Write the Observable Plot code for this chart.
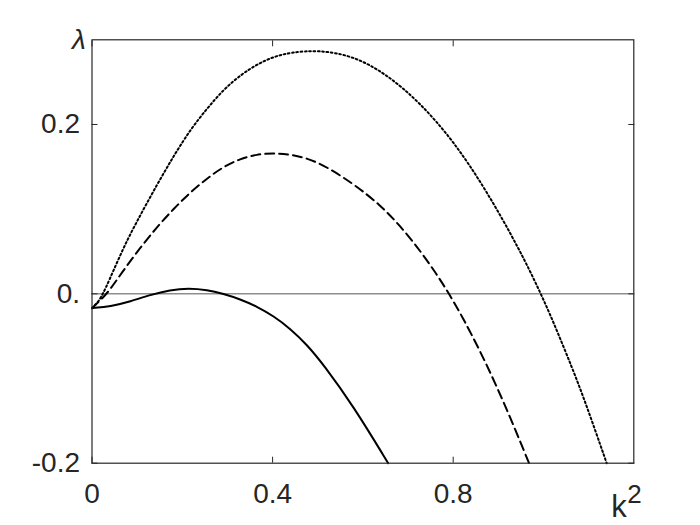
<!DOCTYPE html>
<html>
<head>
<meta charset="utf-8">
<script src="https://cdn.jsdelivr.net/npm/d3@7"></script>
<script src="https://cdn.jsdelivr.net/npm/@observablehq/plot@0.6"></script>
<style>
  body { margin: 0; background: #fff; }
</style>
</head>
<body>
<div id="chart"></div>
<script>
// Solid curve
const solidK2 = [0, 0.041, 0.085, 0.129, 0.173, 0.214, 0.255, 0.291, 0.328, 0.365, 0.402, 0.439, 0.476, 0.512, 0.579, 0.656];
const solidL  = [-0.0169, -0.0149, -0.009, -0.0012, 0.0047, 0.0067, 0.0047, 0, -0.0063, -0.0149, -0.0262, -0.0410, -0.060, -0.0830, -0.1326, -0.2];
// Dashed curve
const dashK2 = [0, 0.015, 0.0335, 0.070, 0.107, 0.144, 0.181, 0.218, 0.255, 0.291, 0.328, 0.365, 0.402, 0.439, 0.498, 0.579, 0.638, 0.682, 0.726, 0.763, 0.791, 0.822, 0.859, 0.895, 0.932, 0.968];
const dashL  = [-0.0169, -0.009, 0, 0.028, 0.0545, 0.079, 0.1005, 0.120, 0.1365, 0.150, 0.1595, 0.1647, 0.1663, 0.1647, 0.1576, 0.130, 0.1052, 0.0806, 0.0516, 0.0235, 0, -0.0288, -0.0669, -0.1076, -0.1531, -0.2];
// Dotted curve
const dotK2 = [0, 0.0115, 0.026, 0.070, 0.107, 0.144, 0.181, 0.218, 0.255, 0.291, 0.328, 0.365, 0.402, 0.439, 0.502, 0.579, 0.652, 0.726, 0.800, 0.873, 0.947, 0.991, 1.021, 1.065, 1.094, 1.140];
const dotL  = [-0.0169, -0.011, 0.0005, 0.0557, 0.093, 0.129, 0.163, 0.194, 0.219, 0.241, 0.258, 0.271, 0.280, 0.285, 0.288, 0.281, 0.2596, 0.226, 0.181, 0.1226, 0.0523, 0.0039, -0.032, -0.0892, -0.1298, -0.2];

const xTicks = [0, 0.4, 0.8];
const xTickLabels = ["0", "0.4", "0.8"];
const yTicks = [-0.2, 0, 0.2];
const yTickLabels = ["-0.2", "0.", "0.2"];

const toRows = (xs, ys) => xs.map((x, i) => ({k2: x, lambda: ys[i]}));
const solid = toRows(solidK2, solidL);
const dashed = toRows(dashK2, dashL);
const dotted = toRows(dotK2, dotL);

const ink = "#262626";
const font = "'Liberation Sans', Arial, Helvetica, sans-serif";

const chart = Plot.plot({
  width: 700,
  height: 525,
  marginLeft: 91.5,
  marginRight: 66.7,
  marginTop: 39.3,
  marginBottom: 62.3,
  style: {fontFamily: font, background: "#fff", overflow: "visible"},
  x: {domain: [0, 1.2]},
  y: {domain: [-0.2, 0.3]},
  marks: [
    Plot.ruleY([0], {stroke: "#555", strokeWidth: 1}),
    Plot.line(solid, {x: "k2", y: "lambda", curve: "basis", stroke: "#000", strokeWidth: 2}),
    Plot.line(dashed, {x: "k2", y: "lambda", curve: "basis", stroke: "#000", strokeWidth: 2, strokeDasharray: "9,5"}),
    Plot.line(dotted, {x: "k2", y: "lambda", curve: "basis", stroke: "#000", strokeWidth: 2, strokeDasharray: "1.7,2.6"}),
    Plot.frame({stroke: ink, strokeWidth: 1.2}),
    // inward ticks on all four sides
    Plot.axisX({anchor: "bottom", ticks: xTicks, tickSize: -6, text: null, label: null, stroke: ink}),
    Plot.axisX({anchor: "top", ticks: xTicks, tickSize: -6, text: null, label: null, stroke: ink}),
    Plot.axisY({anchor: "left", ticks: yTicks, tickSize: -6, text: null, label: null, stroke: ink}),
    Plot.axisY({anchor: "right", ticks: yTicks, tickSize: -6, text: null, label: null, stroke: ink}),
    // tick labels
    Plot.axisX({anchor: "bottom", ticks: xTicks, tickSize: 0, tickPadding: 20,
      tickFormat: (d) => xTickLabels[xTicks.indexOf(d)], fontSize: 28, fill: ink, label: null}),
    Plot.axisY({anchor: "left", ticks: yTicks, tickSize: 0, tickPadding: 12,
      tickFormat: (d) => yTickLabels[yTicks.indexOf(d)], fontSize: 28, fill: ink, label: null}),
    // axis titles
    Plot.text(["k"], {frameAnchor: "bottom-right", dx: -7, dy: 54, fontSize: 31, fill: ink, lineAnchor: "bottom"}),
    Plot.text(["2"], {frameAnchor: "bottom-right", dx: 8, dy: 40, fontSize: 26, fill: ink, lineAnchor: "bottom"}),
    Plot.text(["λ"], {frameAnchor: "top-left", dx: -20, dy: 0, fontSize: 28, fontStyle: "italic", fill: ink, lineAnchor: "middle"})
  ]
});
document.getElementById("chart").appendChild(chart);
</script>
</body>
</html>
